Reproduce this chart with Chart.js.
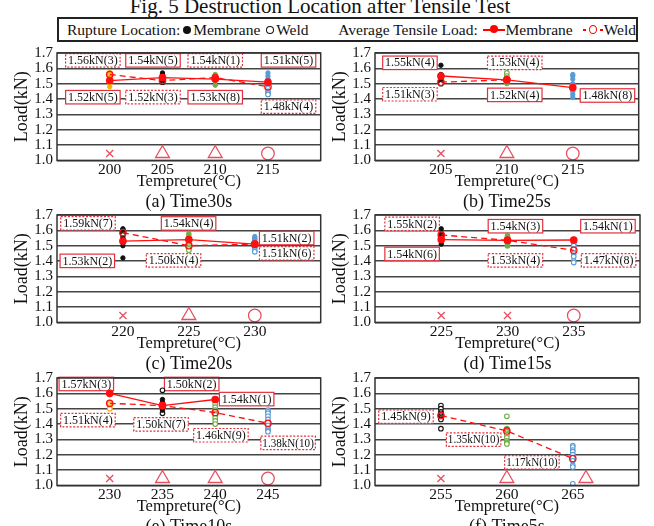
<!DOCTYPE html>
<html>
<head>
<meta charset="utf-8">
<script src="https://cdn.jsdelivr.net/npm/chart.js@4.4.0/dist/chart.umd.min.js"></script>
<style>
body { margin: 0; width: 654px; height: 526px; background: #fff; position: relative; overflow: hidden; font-family: 'Liberation Serif', 'Times New Roman', serif; color: #111; }
#title { position: absolute; left: 0; width: 640px; top: -6px; text-align: center; font-size: 21px; white-space: nowrap; }
#legend { position: absolute; left: 57px; top: 17px; width: 581px; height: 25px; box-sizing: border-box; border: 2px solid #222; display: flex; align-items: center; font-size: 15.5px; padding-left: 8px; white-space: nowrap; }
.dot { display: inline-block; width: 8px; height: 8px; border-radius: 50%; background: #111; margin: 0 2px 0 3px; }
.ring { display: inline-block; width: 6px; height: 6px; border-radius: 50%; border: 1.2px solid #111; margin: 0 2px 0 6px; }
.lmark { display: inline-block; position: relative; width: 22px; height: 2px; background: #f00; margin: 0 1px 0 5px; }
.lmark i { position: absolute; left: 7px; top: -3.5px; width: 8px; height: 8px; border-radius: 50%; background: #f00; }
.dmark { display: inline-flex; align-items: center; margin: 0 1px 0 10px; }
.dmark b { display: inline-block; width: 3px; height: 2px; background: #f00; }
.dmark i { display: inline-block; width: 6px; height: 7px; border-radius: 50%; border: 1.5px solid #f00; margin: 0 3px; }
.gap { display: inline-block; width: 30px; }
.panel { position: absolute; width: 330px; height: 173px; }
</style>
</head>
<body>
<div id="title">Fig. 5 Destruction Location after Tensile Test</div>
<div id="legend">
  <span>Rupture Location:</span><span class="dot"></span><span>Membrane</span><span class="ring"></span><span>Weld</span>
  <span class="gap"></span>
  <span>Average Tensile Load:</span><span class="lmark"><i></i></span><span>Membrane</span><span class="dmark"><b></b><i></i><b></b></span><span>Weld</span>
</div>
<div class="panel" style="left:0;top:40px"><canvas id="pa"></canvas></div>
<div class="panel" style="left:318px;top:40px"><canvas id="pb"></canvas></div>
<div class="panel" style="left:0;top:202px"><canvas id="pc"></canvas></div>
<div class="panel" style="left:318px;top:202px"><canvas id="pd"></canvas></div>
<div class="panel" style="left:0;top:365px"><canvas id="pe"></canvas></div>
<div class="panel" style="left:318px;top:365px"><canvas id="pf"></canvas></div>
<script>
// ---- data (kN) ----
// (a) Time30s
const tempsA = [200, 205, 210, 215];
const membA = [[1.54, 1.52, 1.51, 1.50, 1.48], [1.57, 1.56, 1.55, 1.53, 1.52], [1.56, 1.55, 1.54, 1.54, 1.53, 1.52, 1.52, 1.49], [1.57, 1.55, 1.53, 1.51, 1.50]];
const weldA = [[1.57, 1.56, 1.55], [1.54, 1.52, 1.51], [1.54], [1.47, 1.45, 1.44, 1.43]];
const avgMembA = [1.52, 1.54, 1.53, 1.51];
const avgWeldA = [1.56, 1.52, 1.54, 1.48];
const marksA = ['x', 'tri', 'tri', 'o'];
const boxesA = [['1.56kN(3)', 198.4, 1.652, 1], ['1.54kN(5)', 204.1, 1.652, 0], ['1.54kN(1)', 210.0, 1.652, 1], ['1.51kN(5)', 216.95, 1.652, 0],
                ['1.52kN(5)', 198.4, 1.412, 0], ['1.52kN(3)', 204.1, 1.412, 1], ['1.53kN(8)', 210.0, 1.412, 0], ['1.48kN(4)', 216.95, 1.35, 1]];

// (b) Time25s
const tempsB = [205, 210, 215];
const membB = [[1.62, 1.56, 1.55, 1.53], [1.54, 1.53, 1.51, 1.50], [1.56, 1.55, 1.53, 1.50, 1.48, 1.45, 1.43, 1.41]];
const weldB = [[1.52, 1.51, 1.50], [1.57, 1.55, 1.53, 1.52], []];
const avgMembB = [1.55, 1.525, 1.475];
const avgWeldB = [1.51, 1.525, null];
const marksB = ['x', 'tri', 'o'];
const boxesB = [['1.55kN(4)', 202.65, 1.636, 0], ['1.53kN(4)', 210.6, 1.636, 1], ['1.51kN(3)', 202.65, 1.431, 1],
                ['1.52kN(4)', 210.6, 1.427, 0], ['1.48kN(8)', 217.63, 1.423, 0]];

// (c) Time20s
const tempsC = [220, 225, 230];
const membC = [[1.61, 1.55, 1.52, 1.50, 1.42], [1.58, 1.57, 1.56, 1.55], [1.56, 1.55]];
const weldC = [[1.60, 1.59, 1.58, 1.57], [1.51, 1.49, 1.48, 1.47], [1.54, 1.52, 1.50, 1.49, 1.47, 1.46]];
const avgMembC = [1.53, 1.54, 1.51];
const avgWeldC = [1.585, 1.50, 1.51];
const marksC = ['x', 'tri', 'o'];
const boxesC = [['1.59kN(7)', 217.35, 1.645, 1], ['1.54kN(4)', 224.98, 1.645, 0], ['1.51kN(2)', 232.42, 1.55, 0],
                ['1.51kN(6)', 232.42, 1.45, 1], ['1.53kN(2)', 217.3, 1.401, 0], ['1.50kN(4)', 223.84, 1.404, 1]];

// (d) Time15s
const tempsD = [225, 230, 235];
const membD = [[1.61, 1.58, 1.56, 1.54, 1.53, 1.51], [1.57, 1.55, 1.50], [1.54]];
const weldD = [[1.57, 1.56], [1.56, 1.54, 1.52, 1.50], [1.52, 1.51, 1.50, 1.48, 1.45, 1.43, 1.40, 1.39]];
const avgMembD = [1.54, 1.535, 1.537];
const avgWeldD = [1.57, 1.535, 1.47];
const marksD = ['x', 'x', 'o'];
const boxesD = [['1.55kN(2)', 222.8, 1.642, 1], ['1.54kN(3)', 230.6, 1.627, 0], ['1.54kN(1)', 237.58, 1.627, 0],
                ['1.54kN(6)', 222.8, 1.446, 0], ['1.53kN(4)', 230.6, 1.404, 1], ['1.47kN(8)', 237.63, 1.404, 1]];

// (e) Time10s
const tempsE = [230, 235, 240, 245];
const membE = [[1.61, 1.60, 1.59], [1.56, 1.54, 1.53, 1.51, 1.49], [1.56], []];
const weldE = [[1.54, 1.53, 1.51, 1.50], [1.62, 1.47], [1.53, 1.51, 1.49, 1.47, 1.46, 1.44, 1.42, 1.40], [1.49, 1.48, 1.47, 1.45, 1.43, 1.41, 1.39, 1.37, 1.36, 1.35]];
const avgMembE = [1.60, 1.52, 1.56, null];
const avgWeldE = [1.535, 1.52, 1.475, 1.405];
const marksE = ['x', 'tri', 'tri', 'o'];
const boxesE = [['1.57kN(3)', 227.78, 1.661, 0], ['1.50kN(2)', 237.77, 1.661, 0], ['1.54kN(1)', 242.98, 1.5625, 0],
                ['1.51kN(4)', 227.93, 1.425, 1], ['1.50kN(7)', 234.86, 1.398, 1], ['1.46kN(9)', 240.54, 1.327, 1], ['1.38kN(10)', 246.91, 1.277, 1]];

// (f) Time5s
const tempsF = [255, 260, 265];
const membF = [[], [], []];
const weldF = [[1.52, 1.50, 1.48, 1.47, 1.46, 1.45, 1.44, 1.43, 1.37], [1.45, 1.37, 1.36, 1.35, 1.34, 1.33, 1.31, 1.29, 1.28, 1.27], [1.26, 1.25, 1.23, 1.22, 1.20, 1.18, 1.16, 1.13, 1.12, 1.01]];
const avgMembF = [null, null, null];
const avgWeldF = [1.455, 1.355, 1.175];
const marksF = ['x', 'tri', 'tri'];
const markTempsF = [255, 260, 266];
const boxesF = [['1.45kN(9)', 252.35, 1.448, 1], ['1.35kN(10)', 257.48, 1.298, 1], ['1.17kN(10)', 261.9, 1.15, 1]];

const yTicks = [1.0, 1.1, 1.2, 1.3, 1.4, 1.5, 1.6, 1.7];
const markLevel = 1.045;

// ---- styles ----
const SERIF = "'Liberation Serif', 'Times New Roman', serif";
Chart.defaults.font.family = SERIF;
Chart.defaults.color = '#111';
Chart.defaults.animation = false;

const ORANGE = '#f5b000', BLACK = '#111111', GREEN = '#70ad47', BLUE = '#5b9bd5';
const RED = '#ff1010', MARKRED = '#e8505f', BOXRED = '#e2303c';
var styleMap = { x: 'crossRot', tri: 'triangle', o: 'circle' };
var sizeMap = { x: 5, tri: 8, o: 6.3 };

// white label boxes with red border (solid = membrane, dotted = weld)
const boxPlugin = {
  id: 'boxes',
  beforeDatasetsDraw(chart, args, opts) {
    var ctx = chart.ctx, xs = chart.scales.x, ys = chart.scales.y;
    ctx.save();
    ctx.font = '12px ' + SERIF;
    ctx.textAlign = 'center';
    ctx.textBaseline = 'middle';
    (opts.items || []).forEach(function(b) {
      var cx = xs.getPixelForValue(b[1]), cy = ys.getPixelForValue(b[2]);
      var w = 54.5, h = 13.5;
      ctx.fillStyle = '#fff';
      ctx.fillRect(cx - w / 2, cy - h / 2, w, h);
      ctx.setLineDash(b[3] ? [2, 1.6] : []);
      ctx.strokeStyle = BOXRED;
      ctx.lineWidth = 1.2;
      ctx.strokeRect(cx - w / 2, cy - h / 2, w, h);
      ctx.fillStyle = '#111';
      ctx.fillText(b[0], cx, cy + 0.5, w - 3);
    });
    ctx.restore();
  }
};

// frame round the plot area
const framePlugin = {
  id: 'frame',
  afterDatasetsDraw(chart) {
    var a = chart.chartArea, ctx = chart.ctx;
    ctx.save();
    ctx.strokeStyle = '#333';
    ctx.lineWidth = 1.5;
    ctx.strokeRect(a.left, a.top, a.right - a.left, a.bottom - a.top);
    ctx.restore();
  }
};

function makePanel(id, caption, xmin, xmax, temps, memb, weld, avgMemb, avgWeld, markTemps, marks, boxes) {
  var colors = temps.length === 4 ? [ORANGE, BLACK, GREEN, BLUE] : [BLACK, GREEN, BLUE];
  var datasets = [];

  // average lines
  datasets.push({
    data: temps.map(function(t, i) { return { x: t, y: avgMemb[i] }; }),
    showLine: true, spanGaps: false, borderColor: RED, borderWidth: 1.3,
    pointRadius: 3.2, pointBackgroundColor: RED, pointBorderColor: RED, order: 1
  });
  datasets.push({
    data: temps.map(function(t, i) { return { x: t, y: avgWeld[i] }; }),
    showLine: true, spanGaps: false, borderColor: RED, borderWidth: 1.3, borderDash: [6, 4],
    pointRadius: 3.2, pointBorderWidth: 1.3, pointBackgroundColor: 'rgba(0,0,0,0)', pointBorderColor: RED, order: 2
  });

  // evaluation marks along the bottom
  datasets.push({
    data: markTemps.map(function(t) { return { x: t, y: markLevel }; }),
    pointStyle: marks.map(function(m) { return styleMap[m]; }),
    pointRadius: marks.map(function(m) { return sizeMap[m]; }),
    pointBorderColor: MARKRED, pointBackgroundColor: 'rgba(0,0,0,0)', pointBorderWidth: 1.3, order: 3
  });

  // individual test results
  temps.forEach(function(t, i) {
    datasets.push({
      data: weld[i].map(function(v) { return { x: t, y: v }; }),
      pointRadius: 2.3, pointBorderWidth: 1.1, pointBackgroundColor: '#fff', pointBorderColor: colors[i], order: 6
    });
    datasets.push({
      data: memb[i].map(function(v) { return { x: t, y: v }; }),
      pointRadius: 2.2, pointBorderWidth: 1, pointBackgroundColor: colors[i], pointBorderColor: colors[i], order: 5
    });
  });

  new Chart(document.getElementById(id), {
    type: 'scatter',
    data: { datasets: datasets },
    options: {
      responsive: true,
      maintainAspectRatio: false,
      layout: { padding: { top: 8, right: 8, left: 0, bottom: 0 } },
      plugins: {
        legend: { display: false },
        tooltip: { enabled: false },
        title: { display: true, text: caption, position: 'bottom', fullSize: false,
                 font: { family: SERIF, size: 18, weight: 'normal' }, padding: { top: 0, bottom: 0 }, color: '#111' },
        boxes: { items: boxes }
      },
      scales: {
        x: {
          type: 'linear', min: xmin, max: xmax,
          afterBuildTicks: function(s) { s.ticks = temps.map(function(t) { return { value: t }; }); },
          afterFit: function(s) { s.height = 31; },
          grid: { display: false, drawTicks: false },
          border: { display: false },
          ticks: { padding: 0, autoSkip: false, maxRotation: 0, font: { family: SERIF, size: 15.5 }, color: '#111' },
          title: { display: true, text: 'Tempreture(°C)', font: { family: SERIF, size: 16.5 }, padding: { top: 0, bottom: 0 }, color: '#111' }
        },
        y: {
          min: 1.0, max: 1.7,
          afterBuildTicks: function(s) { s.ticks = yTicks.map(function(v) { return { value: v }; }); },
          afterFit: function(s) { s.width = 57; },
          grid: { color: '#454545', lineWidth: 1.6, drawTicks: false },
          border: { display: false },
          ticks: { padding: 4, autoSkip: false, font: { family: SERIF, size: 15 }, color: '#111', callback: function(v) { return v.toFixed(1); } },
          title: { display: true, text: 'Load(kN)', font: { family: SERIF, size: 18 }, padding: { top: 11, bottom: 0 }, color: '#111' }
        }
      }
    },
    plugins: [boxPlugin, framePlugin]
  });
}

makePanel('pa', '(a) Time30s', 195, 220, tempsA, membA, weldA, avgMembA, avgWeldA, tempsA, marksA, boxesA);
makePanel('pb', '(b) Time25s', 200, 220, tempsB, membB, weldB, avgMembB, avgWeldB, tempsB, marksB, boxesB);
makePanel('pc', '(c) Time20s', 215, 235, tempsC, membC, weldC, avgMembC, avgWeldC, tempsC, marksC, boxesC);
makePanel('pd', '(d) Time15s', 220, 240, tempsD, membD, weldD, avgMembD, avgWeldD, tempsD, marksD, boxesD);
makePanel('pe', '(e) Time10s', 225, 250, tempsE, membE, weldE, avgMembE, avgWeldE, tempsE, marksE, boxesE);
makePanel('pf', '(f) Time5s', 250, 270, tempsF, membF, weldF, avgMembF, avgWeldF, markTempsF, marksF, boxesF);
</script>
</body>
</html>
